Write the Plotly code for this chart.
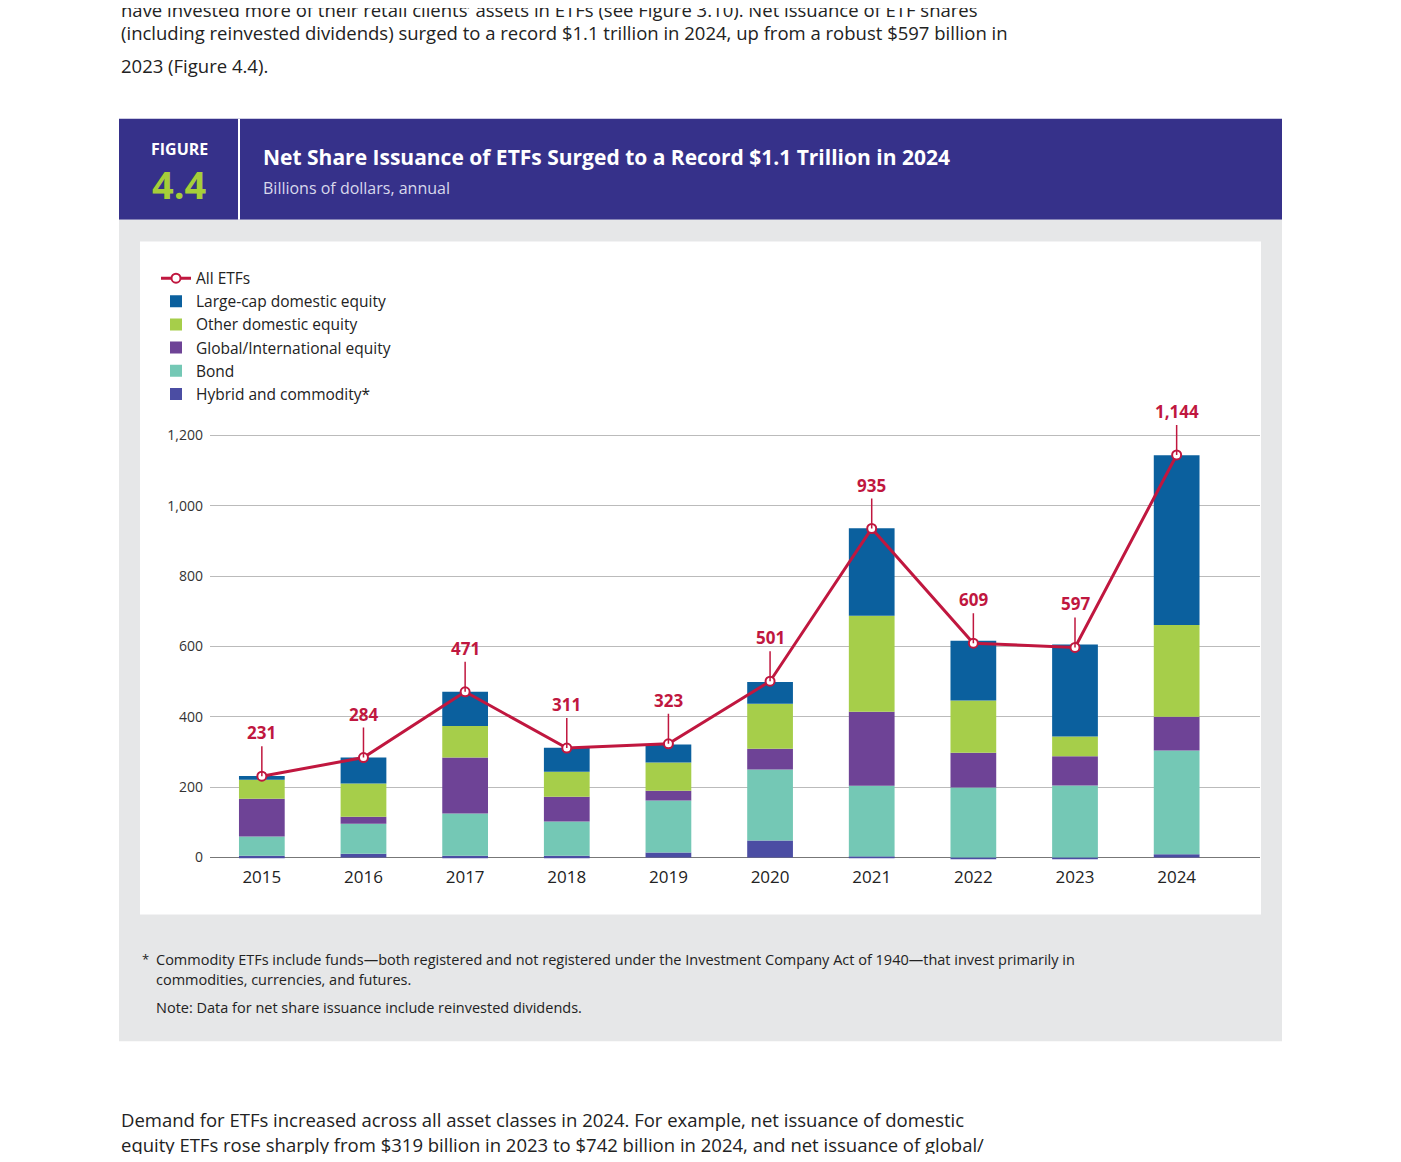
import plotly.graph_objects as go

years = ["2015","2016","2017","2018","2019","2020","2021","2022","2023","2024"]
hybrid = [5, 11, 5, 5, 14, 48, 3, -3, -4, 9]
bond = [55, 85, 120, 97, 148, 202, 201, 199, 205, 295]
global_eq = [107, 20, 159, 71, 28, 59, 210, 99, 83, 96]
other_dom = [54, 94, 90, 71, 80, 128, 273, 148, 56, 261]
large_cap = [11, 74, 97, 68, 51, 62, 249, 170, 261, 482]
all_etfs = [231, 284, 471, 311, 323, 501, 935, 609, 597, 1144]
y_ticks = [0, 200, 400, 600, 800, 1000, 1200]

W, H = 1385, 1146
OFF = 8
def px(x): return (x - OFF) / W
def py(y): return 1 - (y - OFF) / H

FONT = "Open Sans"
RED = "#C0173F"
xs = list(range(len(years)))

fig = go.Figure()
series = [("Hybrid and commodity*", hybrid, "#4B4DA3", 6),
          ("Bond", bond, "#74C8B5", 5),
          ("Global/International equity", global_eq, "#6E4396", 4),
          ("Other domestic equity", other_dom, "#A6CE4A", 3),
          ("Large-cap domestic equity", large_cap, "#0B609E", 2)]
for name, vals, col, rank in series:
    fig.add_trace(go.Bar(x=xs, y=vals, name=name, marker_color=col, width=0.45,
                         marker_line_width=0, legendrank=rank))
fig.add_trace(go.Scatter(x=xs, y=all_etfs, name="All ETFs", mode="lines+markers",
                         line=dict(color=RED, width=3),
                         marker=dict(size=9, color="white", line=dict(color=RED, width=2)),
                         legendrank=1))
for i, v in enumerate(all_etfs):
    fig.add_annotation(x=xs[i], y=v, text=f"<b>{v:,}</b>", showarrow=True, arrowhead=0,
                       arrowcolor=RED, arrowwidth=1.5, ax=0, ay=-30, yanchor="bottom",
                       font=dict(color=RED, size=17, family=FONT), xref="x", yref="y")

shapes = [
    dict(type="rect", xref="paper", yref="paper", x0=px(119), x1=px(1282), y0=py(220), y1=py(119),
         fillcolor="#36318A", line_width=0, layer="below"),
    dict(type="rect", xref="paper", yref="paper", x0=px(119), x1=px(1282), y0=py(1043), y1=py(220),
         fillcolor="#E6E7E8", line_width=0, layer="below"),
    dict(type="rect", xref="paper", yref="paper", x0=px(140), x1=px(1261), y0=py(916), y1=py(242),
         fillcolor="white", line_width=0, layer="below"),
    dict(type="line", xref="paper", yref="paper", x0=px(239), x1=px(239), y0=py(220), y1=py(119),
         line=dict(color="white", width=2)),
]

def txt(x, y, s, size, color="#222", anchor="left", bold=False):
    fig.add_annotation(xref="paper", yref="paper", x=px(x), y=py(y), text=f"<b>{s}</b>" if bold else s,
                       showarrow=False, xanchor=anchor, yanchor="middle",
                       font=dict(size=size, color=color, family=FONT), align="left")

body = 18.5
txt(119, 10, "have invested more of their retail clients’ assets in ETFs (see Figure 3.10). Net issuance of ETF shares", body)
txt(119, 33, "(including reinvested dividends) surged to a record $1.1 trillion in 2024, up from a robust $597 billion in", body)
txt(119, 66, "2023 (Figure 4.4).", body)
txt(119, 1121, "Demand for ETFs increased across all asset classes in 2024. For example, net issuance of domestic", body)
txt(119, 1146, "equity ETFs rose sharply from $319 billion in 2023 to $742 billion in 2024, and net issuance of global/", body)
txt(179, 149, "FIGURE", 16, "white", "center", True)
txt(179, 184, "4.4", 38, "#A6CE39", "center", True)
txt(261, 157, "Net Share Issuance of ETFs Surged to a Record $1.1 Trillion in 2024", 21, "white", bold=True)
txt(261, 188, "Billions of dollars, annual", 16, "#D8D8EC")
txt(140, 961, "*", 13, "#222")
txt(154, 961, "Commodity ETFs include funds—both registered and not registered under the Investment Company Act of 1940—that invest primarily in", 14.5)
txt(154, 981, "commodities, currencies, and futures.", 14.5)
txt(154, 1009, "Note: Data for net share issuance include reinvested dividends.", 14.5)

top_val = 1200 * (859 - 420) / 423
bot_val = -20
fig.update_layout(
    width=W, height=H, margin=dict(l=0, r=0, t=0, b=0),
    paper_bgcolor="white", plot_bgcolor="rgba(0,0,0,0)",
    barmode="relative", shapes=shapes, font=dict(family=FONT, color="#222"),
    legend=dict(x=px(156), y=py(262), xanchor="left", yanchor="top", bgcolor="rgba(0,0,0,0)",
                font=dict(size=15.5, family=FONT, color="#222"), tracegroupgap=0, itemwidth=30),
    xaxis=dict(domain=[px(210), px(1260)], range=[-0.51, 9.82], tickvals=xs, ticktext=years,
               showgrid=False, zeroline=False, tickfont=dict(size=17), ticks=""),
    yaxis=dict(domain=[py(859 + 20 * 423 / 1200), py(420)], range=[bot_val, top_val], tickvals=y_ticks,
               tickformat=",", gridcolor="#BBBBBB", gridwidth=1, zeroline=True, zerolinecolor="#777",
               zerolinewidth=1, tickfont=dict(size=14, color="#333"), ticks="", ticklabelstandoff=6),
)
fig.write_html("out.html")
